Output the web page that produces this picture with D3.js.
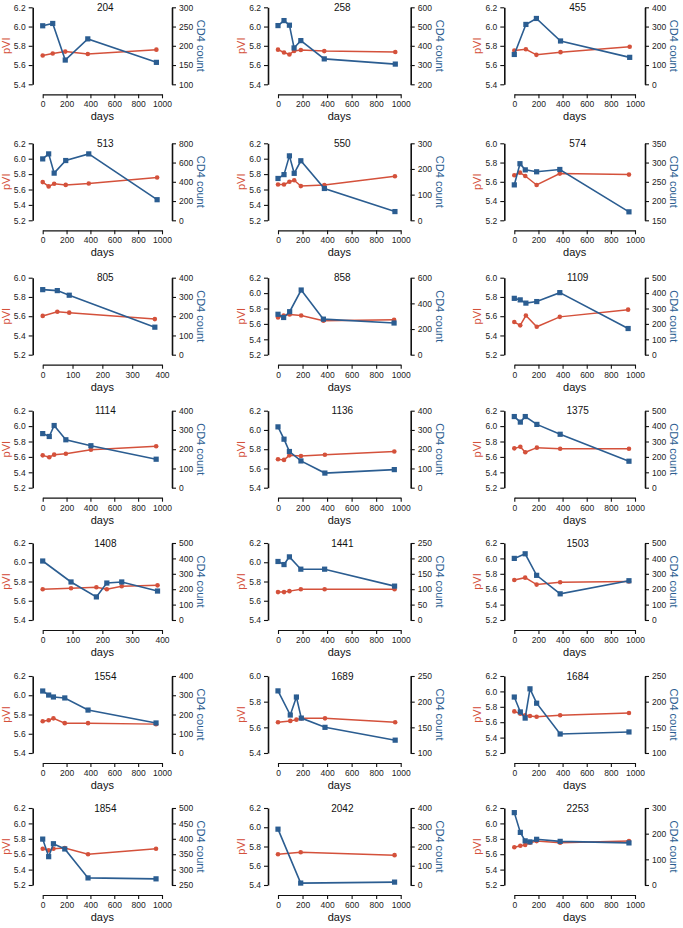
<!DOCTYPE html>
<html><head><meta charset="utf-8">
<script src="https://cdn.jsdelivr.net/npm/d3@7/dist/d3.min.js"></script>
<style>
body{margin:0;background:#fff;}
svg{display:block;}
text{font-family:"Liberation Sans",Arial,Helvetica,sans-serif;}
</style>
</head><body>
<svg id="chart" width="683" height="928"></svg>
<script>
// ---------- DATA ----------
const panelIds = ["204","258","455","513","550","574","805","858","1109","1114","1136","1375","1408","1441","1503","1554","1689","1684","1854","2042","2253"];

// pVI axis ranges [min, max]
const pviRanges = [[5.4,6.2],[5.4,6.2],[5.4,6.2],[5.2,6.2],[5.2,6.2],[5.2,6.0],[5.2,6.0],[5.2,6.2],[5.2,6.0],[5.2,6.2],[5.4,6.2],[5.2,6.2],[5.4,6.2],[5.4,6.2],[5.2,6.2],[5.4,6.2],[5.4,6.0],[5.2,6.2],[5.2,6.2],[5.4,6.2],[5.2,6.2]];
// CD4 axis ranges [min, max, step]
const cd4Ranges = [[100,300,50],[200,600,100],[0,400,100],[0,800,200],[0,300,100],[150,350,50],[0,400,100],[0,600,200],[0,500,100],[0,400,100],[0,400,100],[0,500,100],[0,500,100],[0,250,50],[0,500,100],[0,400,100],[100,250,50],[100,250,50],[250,500,50],[0,400,100],[0,300,100]];
// days axis [max, step]
const dayRanges = [[1000,200],[1000,200],[1000,200],[1000,200],[1000,200],[1000,200],[400,100],[1000,200],[1000,200],[1000,200],[1000,200],[1000,200],[400,100],[1000,200],[1000,200],[1000,200],[1000,200],[1000,200],[1000,200],[1000,200],[1000,200]];

const days_204 = [0, 84, 189, 378, 953];
const pvi_204  = [5.70, 5.72, 5.74, 5.715, 5.76];
const cd4_204  = [252, 258, 163, 218, 157];

const days_258 = [0, 49, 93, 131, 186, 377, 956];
const pvi_258  = [5.76, 5.73, 5.71, 5.747, 5.757, 5.745, 5.735];
const cd4_258  = [505, 531, 507, 389, 427, 332, 305];

const days_455 = [0, 96, 183, 383, 956];
const pvi_455  = [5.75, 5.764, 5.706, 5.734, 5.79];
const cd4_455  = [155, 311, 342, 225, 140];

const days_513 = [0, 50, 96, 193, 386, 959];
const pvi_513  = [5.696, 5.64, 5.674, 5.66, 5.678, 5.756];
const cd4_513  = [638, 690, 490, 621, 690, 214];

const days_550 = [0, 49, 93, 132, 186, 378, 953];
const pvi_550  = [5.664, 5.664, 5.70, 5.72, 5.644, 5.657, 5.773];
const cd4_550  = [163, 178, 251, 183, 232, 124, 34];

const days_574 = [0, 47, 91, 185, 377, 950];
const pvi_574  = [5.668, 5.695, 5.66, 5.567, 5.685, 5.675];
const cd4_574  = [242, 297, 281, 276, 282, 172];

const days_805 = [0, 49, 89, 376];
const pvi_805  = [5.603, 5.647, 5.637, 5.57];
const cd4_805  = [338, 333, 309, 143];

const days_858 = [0, 46, 95, 189, 370, 946];
const pvi_858  = [5.683, 5.71, 5.723, 5.71, 5.641, 5.654];
const cd4_858  = [315, 290, 335, 504, 277, 247];

const days_1109 = [0, 49, 96, 186, 377, 943];
const pvi_1109  = [5.539, 5.505, 5.607, 5.49, 5.593, 5.668];
const cd4_1109  = [366, 356, 335, 345, 403, 170];

const days_1114 = [0, 55, 96, 194, 404, 951];
const pvi_1114  = [5.62, 5.595, 5.629, 5.641, 5.692, 5.738];
const cd4_1114  = [281, 266, 323, 249, 218, 148];

const days_1136 = [0, 49, 93, 187, 382, 948];
const pvi_1136  = [5.696, 5.689, 5.736, 5.73, 5.743, 5.776];
const cd4_1136  = [316, 252, 188, 139, 76, 94];

const days_1375 = [0, 50, 91, 187, 380, 950];
const pvi_1375  = [5.711, 5.732, 5.66, 5.72, 5.706, 5.706];
const cd4_1375  = [462, 426, 462, 411, 347, 172];

const days_1408 = [0, 95, 180, 215, 265, 385];
const pvi_1408  = [5.72, 5.73, 5.74, 5.72, 5.75, 5.76];
const cd4_1408  = [383, 247, 150, 240, 247, 188];

const days_1441 = [0, 49, 93, 186, 380, 950];
const pvi_1441  = [5.69, 5.69, 5.70, 5.72, 5.72, 5.72];
const cd4_1441  = [190, 180, 205, 165, 165, 110];

const days_1503 = [0, 90, 185, 380, 950];
const pvi_1503  = [5.72, 5.75, 5.66, 5.69, 5.70];
const cd4_1503  = [400, 430, 290, 170, 255];

const days_1554 = [0, 50, 90, 185, 380, 950];
const pvi_1554  = [5.73, 5.74, 5.76, 5.71, 5.71, 5.70];
const cd4_1554  = [322, 301, 291, 286, 223, 156];

const days_1689 = [0, 100, 150, 190, 383, 955];
const pvi_1689  = [5.64, 5.65, 5.66, 5.67, 5.67, 5.64];
const cd4_1689  = [221, 174, 209, 168, 150, 125];

const days_1684 = [0, 50, 90, 130, 185, 380, 950];
const pvi_1684  = [5.74, 5.71, 5.69, 5.68, 5.67, 5.69, 5.72];
const cd4_1684  = [209, 180, 168, 225, 197, 137, 141];

const days_1854 = [0, 50, 90, 185, 380, 950];
const pvi_1854  = [5.67, 5.65, 5.67, 5.68, 5.60, 5.67];
const cd4_1854  = [399, 342, 384, 367, 273, 270];

const days_2042 = [0, 185, 950];
const pvi_2042  = [5.72, 5.74, 5.71];
const cd4_2042  = [290, 10, 15];

const days_2253 = [0, 50, 90, 130, 185, 380, 950];
const pvi_2253  = [5.69, 5.71, 5.72, 5.75, 5.77, 5.75, 5.77];
const cd4_2253  = [282, 205, 172, 168, 178, 170, 164];

// ---------- BUILD TABLE ----------
const allDays = [days_204,days_258,days_455,days_513,days_550,days_574,days_805,days_858,days_1109,days_1114,days_1136,days_1375,days_1408,days_1441,days_1503,days_1554,days_1689,days_1684,days_1854,days_2042,days_2253];
const allPvi  = [pvi_204,pvi_258,pvi_455,pvi_513,pvi_550,pvi_574,pvi_805,pvi_858,pvi_1109,pvi_1114,pvi_1136,pvi_1375,pvi_1408,pvi_1441,pvi_1503,pvi_1554,pvi_1689,pvi_1684,pvi_1854,pvi_2042,pvi_2253];
const allCd4  = [cd4_204,cd4_258,cd4_455,cd4_513,cd4_550,cd4_574,cd4_805,cd4_858,cd4_1109,cd4_1114,cd4_1136,cd4_1375,cd4_1408,cd4_1441,cd4_1503,cd4_1554,cd4_1689,cd4_1684,cd4_1854,cd4_2042,cd4_2253];

// ---------- LAYOUT ----------
const RED = "#d4513b", BLUE = "#2b5d91";
const colLeft = [32.7, 268, 504.3];
const colRight = [172, 410.7, 645];
const rowTop = [7.3, 143.3, 277.7, 410.7, 543, 676, 808];
const plotH = 77;

const svg = d3.select("#chart");

panelIds.forEach((id, i) => {
  const row = Math.floor(i / 3), col = i % 3;
  const L = colLeft[col], R = colRight[col], T = rowTop[row], B = T + plotH;
  const g = svg.append("g");

  const [pMin, pMax] = pviRanges[i];
  const [cMin, cMax, cStep] = cd4Ranges[i];
  const [dMax, dStep] = dayRanges[i];

  const x = d3.scaleLinear().domain([0, dMax]).range([L + 10, R - 10]);
  const yL = d3.scaleLinear().domain([pMin, pMax]).range([B, T]);
  const yR = d3.scaleLinear().domain([cMin, cMax]).range([B, T]);

  const pTicks = d3.range(Math.round((pMax - pMin) / 0.2) + 1).map(k => +(pMin + k * 0.2).toFixed(1));
  const cTicks = d3.range(Math.round((cMax - cMin) / cStep) + 1).map(k => cMin + k * cStep);
  const dTicks = d3.range(Math.round(dMax / dStep) + 1).map(k => k * dStep);

  const gl = g.append("g").attr("transform", `translate(${L},0)`)
    .call(d3.axisLeft(yL).tickValues(pTicks).tickFormat(d3.format(".1f")).tickSize(4).tickSizeOuter(0).tickPadding(3));
  const gr = g.append("g").attr("transform", `translate(${R},0)`)
    .call(d3.axisRight(yR).tickValues(cTicks).tickFormat(d3.format("d")).tickSize(4).tickSizeOuter(0).tickPadding(3));
  const gb = g.append("g").attr("transform", `translate(0,${B + 10})`)
    .call(d3.axisBottom(x).tickValues(dTicks).tickFormat(d3.format("d")).tickSize(4).tickSizeOuter(0).tickPadding(3));

  [gl, gr, gb].forEach(a => {
    a.selectAll("text").attr("font-size", 8.5).attr("fill", "#222")
      .attr("font-family", '"Liberation Sans",Arial,sans-serif');
    a.selectAll("line").attr("stroke", "#111").attr("stroke-width", 1.1);
    a.select(".domain").attr("stroke", "#111");
  });
  gl.select(".domain").attr("stroke-width", 1.6);
  gr.select(".domain").attr("stroke-width", 1.6);
  gb.select(".domain").attr("stroke-width", 1.2);

  g.append("text").attr("x", (L + R) / 2 + 3).attr("y", T + 3.5)
    .attr("text-anchor", "middle").attr("font-size", 10).attr("fill", "#111").text(id);

  g.append("text").attr("transform", `translate(${L - 23},${(T + B) / 2}) rotate(-90)`)
    .attr("text-anchor", "middle").attr("font-size", 11).attr("fill", RED).text("pVI");
  g.append("text").attr("transform", `translate(${R + 25},${(T + B) / 2}) rotate(90)`)
    .attr("text-anchor", "middle").attr("font-size", 11).attr("fill", BLUE).text("CD4 count");
  g.append("text").attr("x", (L + R) / 2).attr("y", B + 36)
    .attr("text-anchor", "middle").attr("font-size", 11).attr("fill", "#111").text("days");

  const dd = allDays[i], pv = allPvi[i], cd = allCd4[i];
  const pviPts = dd.map((d, k) => [d, pv[k]]);
  const cd4Pts = dd.map((d, k) => [d, cd[k]]);

  g.append("path").datum(pviPts)
    .attr("d", d3.line().x(d => x(d[0])).y(d => yL(d[1])))
    .attr("fill", "none").attr("stroke", RED).attr("stroke-width", 1.5);
  g.selectAll(".rp").data(pviPts).enter().append("circle")
    .attr("cx", d => x(d[0])).attr("cy", d => yL(d[1])).attr("r", 2.3).attr("fill", RED);

  g.append("path").datum(cd4Pts)
    .attr("d", d3.line().x(d => x(d[0])).y(d => yR(d[1])))
    .attr("fill", "none").attr("stroke", BLUE).attr("stroke-width", 1.6);
  g.selectAll(".bp").data(cd4Pts).enter().append("rect")
    .attr("x", d => x(d[0]) - 2.6).attr("y", d => yR(d[1]) - 2.6)
    .attr("width", 5.2).attr("height", 5.2).attr("fill", BLUE);
});
</script>
</body></html>
